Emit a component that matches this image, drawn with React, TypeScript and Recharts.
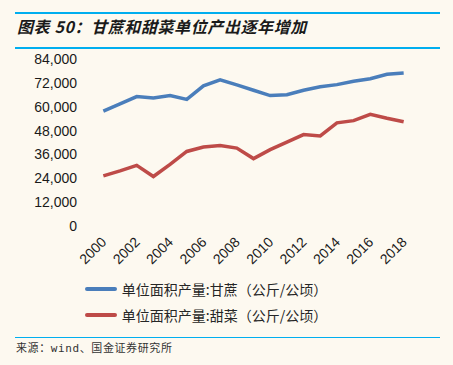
import { LineChart, Line, XAxis, YAxis, Legend } from "recharts";

const years = [
  2000, 2001, 2002, 2003, 2004, 2005, 2006, 2007, 2008, 2009, 2010, 2011, 2012, 2013, 2014,
  2015, 2016, 2017, 2018,
];
const sugarcane = [
  57800, 61400, 65100, 64400, 65600, 63700, 70500, 73500, 71000, 68300, 65600, 66000, 68300,
  70000, 71100, 72800, 74100, 76300, 76900,
];
const sugarbeet = [
  25200, 27700, 30500, 24900, 31000, 37500, 39700, 40500, 39200, 33900, 38400, 42200, 46000,
  45300, 51900, 53000, 56200, 54200, 52400,
];
const yTicks = [0, 12000, 24000, 36000, 48000, 60000, 72000, 84000];
const xLabels = [2000, 2002, 2004, 2006, 2008, 2010, 2012, 2014, 2016, 2018];
const xTickMarks = [1999.5, 2001.5, 2003.5, 2005.5, 2007.5, 2009.5, 2011.5, 2013.5, 2015.5, 2017.5];

const caneName = "单位面积产量:甘蔗（公斤/公顷）";
const beetName = "单位面积产量:甜菜（公斤/公顷）";

const data = years.map((year, i) => ({
  year,
  cane: sugarcane[i],
  beet: sugarbeet[i],
}));

const BG = "#FDF9F0";
const RULE = "#00AEEF";
const BLUE = "#4A7EBB";
const RED = "#BE4B48";
const latin = "'Liberation Sans', Arial, sans-serif";
const cjk = "'Noto Sans CJK SC', 'Liberation Sans', sans-serif";

function YearTick(props: any) {
  const { x, y, payload } = props;
  return (
    <text
      x={x + 4}
      y={y + 9}
      transform={`rotate(-45, ${x + 4}, ${y + 9})`}
      textAnchor="end"
      fontSize={14}
      fontFamily={latin}
      fill="#1a1a1a"
    >
      {payload.value}
    </text>
  );
}

function LegendRows() {
  const rows = [
    { name: caneName, color: BLUE },
    { name: beetName, color: RED },
  ];
  return (
    <div style={{ display: "flex", justifyContent: "center" }}>
      <div>
        {rows.map((r) => (
          <div key={r.name} style={{ display: "flex", alignItems: "center", height: 26 }}>
            <span style={{ width: 32, height: 4, background: r.color, borderRadius: 2, marginRight: 5 }} />
            <span style={{ fontFamily: cjk, fontSize: 14, color: "#262626" }}>{r.name}</span>
          </div>
        ))}
      </div>
    </div>
  );
}

export default function App() {
  return (
    <div style={{ position: "fixed", left: 0, top: 0, width: 453, height: 365, background: BG, overflow: "hidden" }}>
      <div style={{ position: "absolute", left: 15, top: 12, width: 425, height: 0, borderTop: `2px solid ${RULE}` }} />
      <div
        style={{
          position: "absolute",
          left: 17,
          top: 15,
          fontFamily: cjk,
          fontSize: 16,
          fontWeight: 700,
          fontStyle: "italic",
          letterSpacing: 0.6,
          color: "#1a1a1a",
          lineHeight: "22px",
        }}
      >
        图表 50：甘蔗和甜菜单位产出逐年增加
      </div>
      <div style={{ position: "absolute", left: 15, top: 47, width: 425, height: 0, borderTop: `2px solid ${RULE}` }} />

      <div style={{ position: "absolute", left: 0, top: 0 }}>
        <LineChart width={453} height={365} data={data} margin={{ top: 59, right: 41, bottom: 37, left: 0 }}>
          <XAxis
            xAxisId="marks"
            type="number"
            domain={[1999.5, 2018.5]}
            ticks={xTickMarks}
            height={0}
            stroke="#d9d9d9"
            tickSize={5}
            tick={() => <g />}
          />
          <XAxis
            xAxisId="years"
            dataKey="year"
            type="number"
            domain={[1999.5, 2018.5]}
            ticks={xLabels}
            height={50}
            axisLine={false}
            tickLine={false}
            interval={0}
            tick={<YearTick />}
          />
          <YAxis
            width={95}
            domain={[0, 84000]}
            ticks={yTicks}
            axisLine={false}
            tickLine={false}
            tickMargin={12}
            tick={{ fontSize: 14, fontFamily: latin, fill: "#1a1a1a" }}
            tickFormatter={(v: number) => v.toLocaleString("en-US")}
          />
          <Legend verticalAlign="bottom" height={52} content={() => <LegendRows />} />
          <Line
            xAxisId="years"
            dataKey="cane"
            name={caneName}
            stroke={BLUE}
            strokeWidth={3.5}
            dot={false}
            isAnimationActive={false}
          />
          <Line
            xAxisId="years"
            dataKey="beet"
            name={beetName}
            stroke={RED}
            strokeWidth={3.5}
            dot={false}
            isAnimationActive={false}
          />
        </LineChart>
      </div>

      <div style={{ position: "absolute", left: 15, top: 337, width: 425, height: 0, borderTop: `1.5px solid ${RULE}` }} />
      <div
        style={{
          position: "absolute",
          left: 16,
          top: 341,
          fontFamily: "'DejaVu Sans Mono', 'Noto Sans CJK SC', monospace",
          fontSize: 11,
          letterSpacing: 0.6,
          color: "#333",
          lineHeight: "16px",
        }}
      >
        来源：wind、国金证券研究所
      </div>
    </div>
  );
}
